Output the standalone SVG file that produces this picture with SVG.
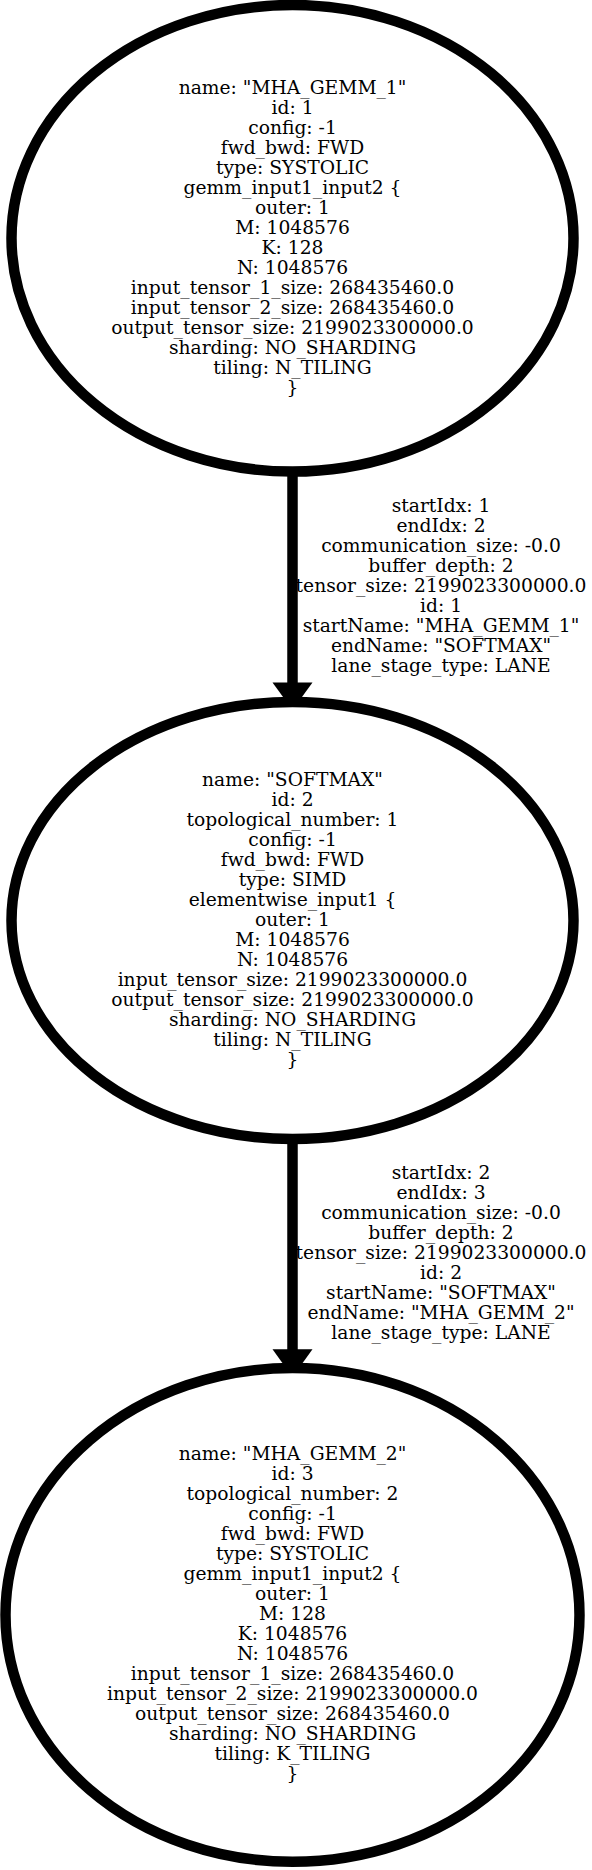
<svg xmlns="http://www.w3.org/2000/svg" width="592" height="1870" viewBox="0 0 592 1870">
<style>
.bg{fill:#fff}
.node ellipse{fill:#fff;stroke:#000;stroke-width:10.5}
.edge line{stroke:#000;stroke-width:10.5}
.edge polygon{fill:#000;stroke:none}
text{font-family:"DejaVu Serif",serif;font-size:18.7px;fill:#000;text-anchor:middle}
</style>
<rect class="bg" x="0" y="0" width="592" height="1870"/>
<g id="edge-labels">
<text x="441" y="511.7"><tspan x="441">startIdx: 1</tspan><tspan x="441" dy="20">endIdx: 2</tspan><tspan x="441" dy="20">communication_size: -0.0</tspan><tspan x="441" dy="20">buffer_depth: 2</tspan><tspan x="441" dy="20">tensor_size: 2199023300000.0</tspan><tspan x="441" dy="20">id: 1</tspan><tspan x="441" dy="20">startName: "MHA_GEMM_1"</tspan><tspan x="441" dy="20">endName: "SOFTMAX"</tspan><tspan x="441" dy="20">lane_stage_type: LANE</tspan></text>
<text x="441" y="1179.3"><tspan x="441">startIdx: 2</tspan><tspan x="441" dy="20">endIdx: 3</tspan><tspan x="441" dy="20">communication_size: -0.0</tspan><tspan x="441" dy="20">buffer_depth: 2</tspan><tspan x="441" dy="20">tensor_size: 2199023300000.0</tspan><tspan x="441" dy="20">id: 2</tspan><tspan x="441" dy="20">startName: "SOFTMAX"</tspan><tspan x="441" dy="20">endName: "MHA_GEMM_2"</tspan><tspan x="441" dy="20">lane_stage_type: LANE</tspan></text>
</g>
<g id="connectors" class="edge">
<line x1="292.5" y1="470" x2="292.5" y2="684"/>
<polygon points="272.5,682.5 312.5,682.5 292.5,710"/>
<line x1="292.5" y1="1137" x2="292.5" y2="1351"/>
<polygon points="272.5,1349.3 312.5,1349.3 292.5,1377"/>
</g>
<g id="node1" class="node">
<ellipse cx="292.5" cy="238.3" rx="281" ry="233.3"/>
<text x="292.5" y="93.8"><tspan x="292.5">name: "MHA_GEMM_1"</tspan><tspan x="292.5" dy="20">id: 1</tspan><tspan x="292.5" dy="20">config: -1</tspan><tspan x="292.5" dy="20">fwd_bwd: FWD</tspan><tspan x="292.5" dy="20">type: SYSTOLIC</tspan><tspan x="292.5" dy="20">gemm_input1_input2 {</tspan><tspan x="292.5" dy="20">outer: 1</tspan><tspan x="292.5" dy="20">M: 1048576</tspan><tspan x="292.5" dy="20">K: 128</tspan><tspan x="292.5" dy="20">N: 1048576</tspan><tspan x="292.5" dy="20">input_tensor_1_size: 268435460.0</tspan><tspan x="292.5" dy="20">input_tensor_2_size: 268435460.0</tspan><tspan x="292.5" dy="20">output_tensor_size: 2199023300000.0</tspan><tspan x="292.5" dy="20">sharding: NO_SHARDING</tspan><tspan x="292.5" dy="20">tiling: N_TILING</tspan><tspan x="292.5" dy="20">}</tspan></text>
</g>
<g id="node2" class="node">
<ellipse cx="292.5" cy="920.5" rx="281" ry="218.5"/>
<text x="292.5" y="786"><tspan x="292.5">name: "SOFTMAX"</tspan><tspan x="292.5" dy="20">id: 2</tspan><tspan x="292.5" dy="20">topological_number: 1</tspan><tspan x="292.5" dy="20">config: -1</tspan><tspan x="292.5" dy="20">fwd_bwd: FWD</tspan><tspan x="292.5" dy="20">type: SIMD</tspan><tspan x="292.5" dy="20">elementwise_input1 {</tspan><tspan x="292.5" dy="20">outer: 1</tspan><tspan x="292.5" dy="20">M: 1048576</tspan><tspan x="292.5" dy="20">N: 1048576</tspan><tspan x="292.5" dy="20">input_tensor_size: 2199023300000.0</tspan><tspan x="292.5" dy="20">output_tensor_size: 2199023300000.0</tspan><tspan x="292.5" dy="20">sharding: NO_SHARDING</tspan><tspan x="292.5" dy="20">tiling: N_TILING</tspan><tspan x="292.5" dy="20">}</tspan></text>
</g>
<g id="node3" class="node">
<ellipse cx="292.5" cy="1614.9" rx="287" ry="246.9"/>
<text x="292.5" y="1460"><tspan x="292.5">name: "MHA_GEMM_2"</tspan><tspan x="292.5" dy="20">id: 3</tspan><tspan x="292.5" dy="20">topological_number: 2</tspan><tspan x="292.5" dy="20">config: -1</tspan><tspan x="292.5" dy="20">fwd_bwd: FWD</tspan><tspan x="292.5" dy="20">type: SYSTOLIC</tspan><tspan x="292.5" dy="20">gemm_input1_input2 {</tspan><tspan x="292.5" dy="20">outer: 1</tspan><tspan x="292.5" dy="20">M: 128</tspan><tspan x="292.5" dy="20">K: 1048576</tspan><tspan x="292.5" dy="20">N: 1048576</tspan><tspan x="292.5" dy="20">input_tensor_1_size: 268435460.0</tspan><tspan x="292.5" dy="20">input_tensor_2_size: 2199023300000.0</tspan><tspan x="292.5" dy="20">output_tensor_size: 268435460.0</tspan><tspan x="292.5" dy="20">sharding: NO_SHARDING</tspan><tspan x="292.5" dy="20">tiling: K_TILING</tspan><tspan x="292.5" dy="20">}</tspan></text>
</g>
</svg>
